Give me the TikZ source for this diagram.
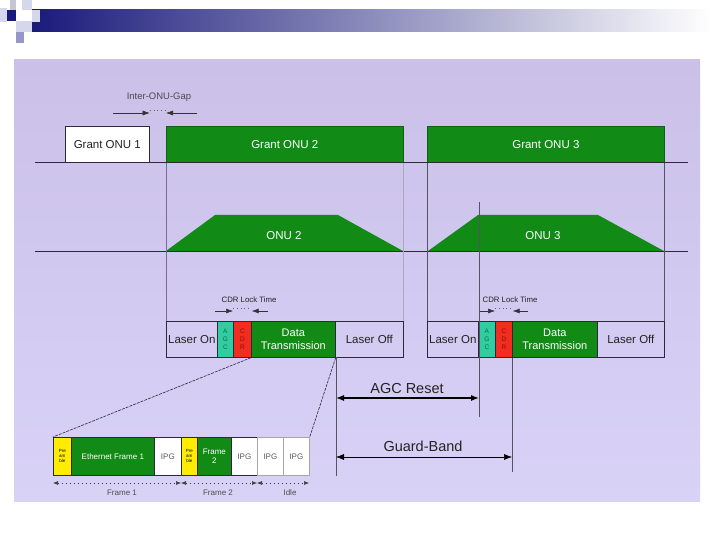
\documentclass[tikz,border=0pt]{standalone}
\usepackage{fontspec}
\setmainfont{Liberation Sans}
\usetikzlibrary{arrows.meta}
\definecolor{panelTop}{RGB}{202,192,232}
\definecolor{panelBot}{RGB}{217,210,247}
\definecolor{navy}{RGB}{26,26,122}
\definecolor{sqlight}{RGB}{214,214,236}
\definecolor{sqmid}{RGB}{150,150,200}
\definecolor{grn}{RGB}{17,139,22}
\definecolor{tealc}{RGB}{48,205,160}
\definecolor{cdrred}{RGB}{242,44,30}
\definecolor{yel}{RGB}{255,236,0}
\definecolor{edge}{RGB}{45,40,60}
\definecolor{thinln}{RGB}{120,108,150}
\definecolor{txt}{RGB}{35,35,35}
\tikzset{
  cell/.style={draw=edge, line width=0.7pt, inner sep=0pt, anchor=north west, align=center, text=txt},
  grantw/.style={cell, fill=white, font=\fontsize{11.5}{12}\selectfont},
  grantg/.style={cell, draw=grn!70!black, fill=grn, text=white, font=\fontsize{11.5}{12}\selectfont},
  laser/.style={cell, font=\fontsize{11.5}{12}\selectfont},
  agcbox/.style={cell, fill=tealc, text=tealc!50!black, font=\fontsize{6.5}{8}\selectfont},
  cdrbox/.style={cell, fill=cdrred, text=cdrred!50!black, font=\fontsize{6.5}{8}\selectfont},
  databox/.style={cell, fill=grn, text=white, font=\fontsize{11}{12.5}\selectfont},
  prebox/.style={cell, fill=yel, text=black, font=\fontsize{4.5}{5}\selectfont},
  ethbox/.style={cell, fill=grn, text=white, font=\fontsize{8}{9.5}\selectfont},
  ipgbox/.style={cell, fill=white, text=black!65, font=\fontsize{8}{9}\selectfont},
  ipgbox2/.style={ipgbox, draw=black!35},
  axis/.style={draw=edge, line width=0.8pt},
  vthin/.style={draw=thinln, line width=0.5pt},
  vdark/.style={draw=edge!80, line width=0.8pt},
  tip/.style={-{Latex[length=7pt,width=5pt]}, line width=0.5pt, draw=black!80},
  dimarrow/.style={{Latex[length=8pt,width=6pt]}-{Latex[length=8pt,width=6pt]}, draw=black},
  dotarrow/.style={{Latex[length=5pt,width=4pt]}-{Latex[length=5pt,width=4pt]}, draw=black!75, line width=0.6pt, dash pattern=on 1pt off 3pt},
  zoomline/.style={draw=edge, line width=0.6pt, dash pattern=on 3pt off 1pt},
  smalltxt/.style={text=txt, inner sep=0pt}
}
\begin{document}
\begin{tikzpicture}[x=1pt,y=-1pt]
\useasboundingbox (0,0) rectangle (720,540);
\fill[white] (0,0) rectangle (720,540);
% header decoration
\shade[left color=navy, right color=white] (32,10) rectangle (712,32);
\fill[sqlight] (0,8) rectangle (7,22);
\fill[navy] (7,10) rectangle (16,21);
\fill[sqlight!80!gray] (10,0) rectangle (16,10);
\fill[sqlight] (22,0) rectangle (32,10);
\fill[sqlight] (32,10) rectangle (40,22);
\fill[sqlight] (16,21) rectangle (32,32);
\fill[sqmid] (16,32) rectangle (24,43);
% panel
\shade[top color=panelTop, bottom color=panelBot] (14,60) rectangle (700,501);

% ---- row 1 : grants
\coordinate (a1L) at (35,162);
\coordinate (a1R) at (688,162);
\node[grantw, minimum width=84pt, minimum height=36pt] (g1) at (65,126) {Grant ONU 1};
\node[grantg, minimum width=237pt, minimum height=36pt] (g2) at (166,126) {Grant ONU 2};
\node[grantg, minimum width=237pt, minimum height=36pt] (g3) at (427,126) {Grant ONU 3};
\draw[axis] (a1L) -- (a1R);

% Inter-ONU gap
\node[smalltxt, font=\fontsize{9.5}{10}\selectfont, text=black!70] (gaplbl) at (159,97) {Inter-ONU-Gap};
\coordinate (gapL) at (113,113);
\coordinate (gapR) at (197,113);
\draw[tip] (gapL) -- (g1.north east |- gapL);
\draw[tip] (gapR) -- (g2.north west |- gapR);
\draw[draw=black!60, line width=0.5pt, dash pattern=on 0.8pt off 3pt] ([yshift=3pt]g1.north east |- gapL) -- ([yshift=3pt]g2.north west |- gapR);

% ---- row 2 : power envelopes
\coordinate (a2L) at (35,251);
\coordinate (a2R) at (688,251);
\fill[grn] (166,251) -- (215,215) -- (338,215) -- (403,251) -- cycle;
\fill[grn] (428,251) -- (478,215) -- (598,215) -- (664,251) -- cycle;
\node[smalltxt, text=white, font=\fontsize{11.5}{12}\selectfont] (onu2) at (284,236) {ONU 2};
\node[smalltxt, text=white, font=\fontsize{11.5}{12}\selectfont] (onu3) at (543,236) {ONU 3};
\draw[axis] (a2L) -- (a2R);

% ---- row 3 : burst structure ONU 2
\node[laser, minimum width=51pt, minimum height=36pt] (lon2) at (166,321) {Laser On};
\node[agcbox, minimum width=16pt, minimum height=36pt] (agc2) at (217,321) {A\\G\\C};
\node[cdrbox, minimum width=18pt, minimum height=36pt] (cdr2) at (233,321) {C\\D\\R};
\node[databox, minimum width=84pt, minimum height=36pt] (dat2) at (251,321) {Data\\Transmission};
\node[laser, minimum width=68pt, minimum height=36pt] (loff2) at (335,321) {Laser Off};
% ONU 3
\node[laser, minimum width=51pt, minimum height=36pt] (lon3) at (427,321) {Laser On};
\node[agcbox, minimum width=17pt, minimum height=36pt] (agc3) at (478,321) {A\\G\\C};
\node[cdrbox, minimum width=17pt, minimum height=36pt] (cdr3) at (495,321) {C\\D\\R};
\node[databox, minimum width=85pt, minimum height=36pt] (dat3) at (512,321) {Data\\Transmission};
\node[laser, minimum width=67pt, minimum height=36pt] (loff3) at (597,321) {Laser Off};

% vertical guide lines
\draw[vthin] (g2.south west) -- (lon2.north west);
\draw[vthin, draw=thinln!60] (g2.south east) -- (loff2.north east);
\draw[vdark] (g3.south west) -- (lon3.north west);
\draw[vdark] (g3.south east) -- (loff3.north east);
\coordinate (agcTop) at (479,202);
\coordinate (agcBot) at (479,417);
\draw[vdark] (agcTop) -- (agcBot);
\coordinate (gbTop) at (512,358);
\coordinate (gbBot) at (512,472);
\draw[vdark] (gbTop) -- (gbBot);
\coordinate (ofTop) at (336,357);
\coordinate (ofBot) at (336,476);
\draw[vdark] (ofTop) -- (ofBot);

% CDR lock time, ONU 2
\node[smalltxt, font=\fontsize{7.8}{8}\selectfont] (cdrl2) at (249,300) {CDR Lock Time};
\coordinate (c2L) at (215,311);
\coordinate (c2R) at (268,311);
\draw[tip] (c2L) -- (cdr2.north west |- c2L);
\draw[tip] (c2R) -- (cdr2.north east |- c2R);
\draw[draw=black!60, line width=0.5pt, dash pattern=on 0.8pt off 3pt] ([yshift=3pt]cdr2.north west |- c2L) -- ([yshift=3pt]cdr2.north east |- c2R);
% CDR lock time, ONU 3
\node[smalltxt, font=\fontsize{7.8}{8}\selectfont] (cdrl3) at (510,300) {CDR Lock Time};
\coordinate (c3L) at (480,311);
\coordinate (c3R) at (528,311);
\draw[tip] (c3L) -- (cdr3.north west |- c3L);
\draw[tip] (c3R) -- (cdr3.north east |- c3R);
\draw[draw=black!60, line width=0.5pt, dash pattern=on 0.8pt off 3pt] ([yshift=3pt]cdr3.north west |- c3L) -- ([yshift=3pt]cdr3.north east |- c3R);

% AGC reset and guard band
\coordinate (arL) at (336,398);
\coordinate (arR) at (479,398);
\draw[dimarrow, line width=1.1pt] (arL) -- (arR);
\node[smalltxt, font=\fontsize{14.5}{16}\selectfont] (arlbl) at (407,389) {AGC Reset};
\coordinate (gbL) at (336,457);
\coordinate (gbR) at (512,457);
\draw[dimarrow, line width=0.5pt] (gbL) -- (gbR);
\node[smalltxt, font=\fontsize{14.5}{16}\selectfont] (gblbl) at (423,446) {Guard-Band};

% ---- row 4 : frames
\node[prebox, minimum width=18pt, minimum height=38pt] (pre1) at (53,437) {Pre\\am\\ble};
\node[ethbox, minimum width=83pt, minimum height=38pt] (eth1) at (71,437) {Ethernet Frame 1};
\node[ipgbox, minimum width=27pt, minimum height=38pt] (ipg1) at (154,437) {IPG};
\node[prebox, minimum width=16pt, minimum height=38pt] (pre2) at (181,437) {Pre\\am\\ble};
\node[ethbox, minimum width=34pt, minimum height=38pt] (fr2) at (197,437) {Frame\\2};
\node[ipgbox, minimum width=26pt, minimum height=38pt] (ipg2) at (231,437) {IPG};
\node[ipgbox2, minimum width=26pt, minimum height=38pt] (ipg3) at (257,437) {IPG};
\node[ipgbox2, minimum width=26pt, minimum height=38pt] (ipg4) at (283,437) {IPG};

% zoom lines
\draw[zoomline] (dat2.south west) -- (pre1.north west);
\draw[zoomline] (dat2.south east) -- (ipg4.north east);

% frame dimension arrows
\coordinate (f1L) at (53,483);
\coordinate (f1R) at (181,483);
\coordinate (f2R) at (257,483);
\coordinate (f3R) at (309,483);
\draw[dotarrow] (f1L) -- (f1R);
\draw[dotarrow] (f1R) -- (f2R);
\draw[dotarrow] (f2R) -- (f3R);
\node[smalltxt, font=\fontsize{8}{9}\selectfont, text=black!70] (fl1) at (122,493) {Frame 1};
\node[smalltxt, font=\fontsize{8}{9}\selectfont, text=black!70] (fl2) at (218,493) {Frame 2};
\node[smalltxt, font=\fontsize{8}{9}\selectfont, text=black!70] (fl3) at (290,493) {Idle};
\end{tikzpicture}
\end{document}
